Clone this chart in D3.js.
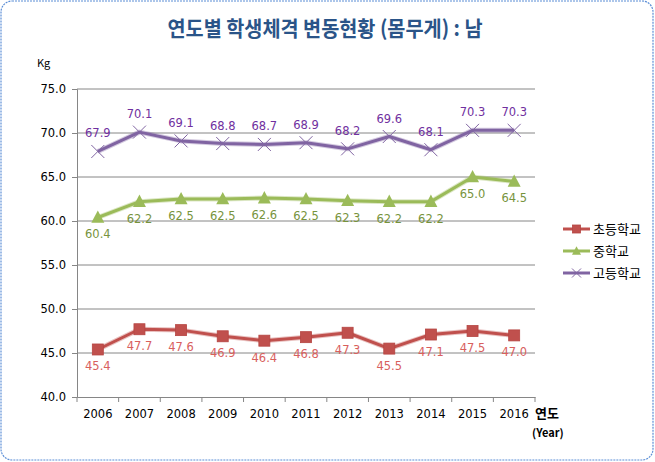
<!DOCTYPE html>
<html><head><meta charset="utf-8">
<script src="https://cdn.jsdelivr.net/npm/d3@7"></script>
<style>body{margin:0;background:#fff}svg{display:block}</style>
</head><body>
<svg id="c" width="655" height="462"></svg>
<script>
const years = ["2006","2007","2008","2009","2010","2011","2012","2013","2014","2015","2016"];
const elementary = [45.4,47.7,47.6,46.9,46.4,46.8,47.3,45.5,47.1,47.5,47.0];
const middle = [60.4,62.2,62.5,62.5,62.6,62.5,62.3,62.2,62.2,65.0,64.5];
const high = [67.9,70.1,69.1,68.8,68.7,68.9,68.2,69.6,68.1,70.3,70.3];
const seriesNames = ["초등학교","중학교","고등학교"];
const yTicks = [40,45,50,55,60,65,70,75];

const svg = d3.select("#c");
const font = "'Noto Sans CJK KR','Noto Sans',sans-serif";
svg.append("rect").attr("x",1).attr("y",1).attr("width",652).attr("height",459)
  .attr("rx",11).attr("fill","#fff").attr("stroke","#5B8ED6").attr("stroke-width",1.2).attr("stroke-dasharray","2,1");

svg.append("text").attr("x",325).attr("y",36).attr("text-anchor","middle")
  .attr("font-family",font).attr("font-weight","bold").attr("font-size",21)
  .attr("fill","#2A5488").attr("textLength",315).attr("lengthAdjust","spacingAndGlyphs")
  .text("연도별 학생체격 변동현황 (몸무게) : 남");

svg.append("text").attr("x",37).attr("y",67).attr("font-family",font).attr("font-size",11).attr("fill","#000").text("Kg");

const L=77,R=535,T=89,B=397;
const x = d3.scaleBand().domain(years).range([L,R]);
const y = d3.scaleLinear().domain([40,75]).range([B,T]);

// gridlines
svg.append("g").selectAll("line").data(yTicks.filter(d=>d>40)).join("line")
  .attr("x1",L).attr("x2",R).attr("y1",d=>y(d)).attr("y2",d=>y(d)).attr("stroke","#868686").attr("stroke-width",1);

const yAxis = svg.append("g").attr("transform",`translate(${L},0)`)
  .call(d3.axisLeft(y).tickValues(yTicks).tickFormat(d3.format(".1f")).tickSize(5).tickPadding(6));
yAxis.select(".domain").attr("stroke","#868686");
yAxis.selectAll(".tick line").attr("stroke","#868686");
yAxis.selectAll("text").attr("font-family","'DejaVu Sans',sans-serif").attr("font-size",11.5).attr("fill","#000");

const xAxis = svg.append("g").attr("transform",`translate(0,${B})`)
  .call(d3.axisBottom(x).tickSize(0).tickPadding(13));
xAxis.select(".domain").attr("stroke","#868686");
xAxis.selectAll("text").attr("font-family","'DejaVu Sans',sans-serif").attr("font-size",11.5).attr("fill","#000");
// category boundary ticks
const bounds = years.map(d=>x(d)).concat([R]);
svg.append("g").selectAll("line").data(bounds).join("line")
  .attr("x1",d=>d).attr("x2",d=>d).attr("y1",B).attr("y2",B+5).attr("stroke","#868686");

svg.append("text").attr("x",535).attr("y",418).attr("font-family",font).attr("font-weight","bold").attr("font-size",13).text("연도");
svg.append("text").attr("x",532).attr("y",437).attr("font-family",font).attr("font-weight","bold").attr("font-size",11).text("(Year)");

const cx = d=>x(d)+x.bandwidth()/2;
const series = [
  {name:seriesNames[0],vals:elementary,color:"#C0504D",label:"#D8605D",marker:"square",dy:21},
  {name:seriesNames[1],vals:middle,color:"#9BBB59",label:"#77933C",marker:"triangle",dy:21},
  {name:seriesNames[2],vals:high,color:"#8064A2",label:"#7030A0",marker:"x",dy:-14}
];
const line = d3.line().x((d,i)=>cx(years[i])).y(d=>y(d));

function drawMarker(g,type,color,px,py,s){
  if(type==="square"){
    g.append("rect").attr("x",px-s/2).attr("y",py-s/2).attr("width",s).attr("height",s).attr("fill",color).attr("stroke","#B54542").attr("stroke-width",0.8);
  } else if(type==="triangle"){
    const h=s*0.9;
    g.append("path").attr("d",`M${px},${py-h*0.6}L${px+s/2},${py+h*0.45}L${px-s/2},${py+h*0.45}Z`).attr("fill",color);
  } else {
    const r=s/2;
    g.append("path").attr("d",`M${px-r},${py-r}L${px+r},${py+r}M${px-r},${py+r}L${px+r},${py-r}`).attr("stroke",color).attr("stroke-width",1).attr("fill","none");
  }
}

series.forEach(s=>{
  const g = svg.append("g");
  g.append("path").datum(s.vals).attr("d",line).attr("fill","none").attr("stroke",s.color).attr("stroke-opacity",0.35).attr("stroke-width",5).attr("stroke-linejoin","round");
  g.append("path").datum(s.vals).attr("d",line).attr("fill","none").attr("stroke",s.color).attr("stroke-width",3).attr("stroke-linejoin","round");
  s.vals.forEach((v,i)=>{
    drawMarker(g,s.marker,s.color,cx(years[i]),y(v),s.marker==="square"?11:13);
  });
  g.selectAll("text").data(s.vals).join("text")
    .attr("x",(d,i)=>cx(years[i])).attr("y",d=>y(d)+s.dy).attr("text-anchor","middle")
    .attr("font-family","'DejaVu Sans',sans-serif").attr("font-size",11.5).attr("fill",s.label)
    .text(d=>d.toFixed(1));
});

// legend
const lg = svg.append("g");
series.forEach((s,i)=>{
  const ly = 229+i*22;
  lg.append("line").attr("x1",563).attr("x2",590).attr("y1",ly).attr("y2",ly).attr("stroke",s.color).attr("stroke-width",3);
  drawMarker(lg,s.marker,s.color,576.5,ly,s.marker==="square"?8:9);
  lg.append("text").attr("x",593).attr("y",ly+5).attr("font-family",font).attr("font-size",13).attr("fill","#000").text(s.name);
});
</script>
</body></html>
